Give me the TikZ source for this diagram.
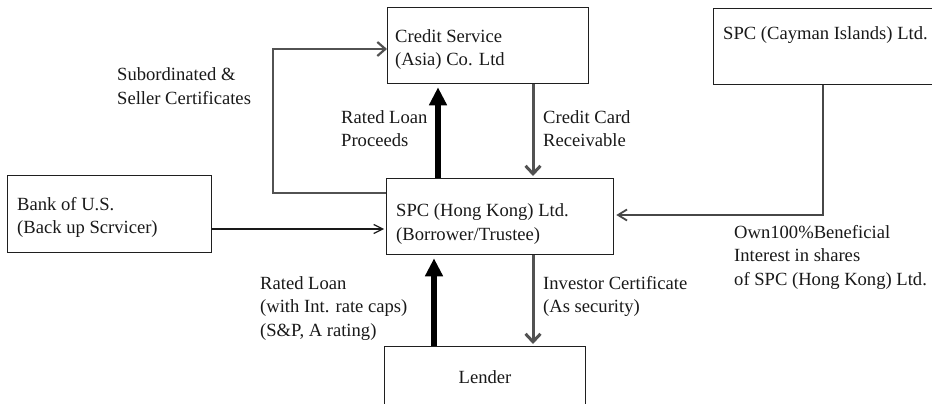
\documentclass[tikz,border=0pt]{standalone}
\usepackage{fontspec}
\setmainfont{Liberation Serif}
\usetikzlibrary{arrows.meta}
\begin{document}
\begin{tikzpicture}[x=1pt,y=-1pt,
  box/.style={draw=black!88, line width=1.3pt, inner sep=0pt, anchor=north west},
  % multi-line labels are placed by the baseline of their last line
  txt/.style={inner sep=0pt, align=left, anchor=base west,
              font=\fontsize{18.6}{23.5}\selectfont, text=black!90},
  heavy/.style={line width=6.5pt, draw=black, -{Triangle[length=18pt,width=17pt]}, shorten >=3pt},
  grayflow/.style={draw=black!68, line width=3pt, -{Straight Barb[length=8pt,width=15pt]}, shorten >=2pt},
  loopflow/.style={draw=black!68, line width=2.2pt, -{Straight Barb[length=8pt,width=14pt]}},
  thinflow/.style={draw=black!90, line width=1.2pt, -{Straight Barb[length=9pt,width=9pt]}, shorten >=2pt},
  ownflow/.style={draw=black!72, line width=1.8pt, -{Straight Barb[length=9pt,width=11pt]}, shorten >=2pt}
]
\useasboundingbox (0,0) rectangle (932,404);

% entities
\node[box, minimum width=201pt, minimum height=76pt] (cs) at (387,7) {};
\node[box, minimum width=227pt, minimum height=76pt] (hk) at (386,178) {};
\node[box, minimum width=204pt, minimum height=77pt] (bank) at (7,175) {};
\node[box, minimum width=201pt, minimum height=58pt] (lender) at (384,346) {};
\node[box, minimum width=235pt, minimum height=76pt] (cay) at (713,8) {};

\node[txt] (cstxt) at (395,66) {Credit Service\\(Asia) Co. Ltd};
\node[txt] (hktxt) at (396,240) {SPC (Hong Kong) Ltd.\\(Borrower/Trustee)};
\node[txt] (banktxt) at (17,233.5) {Bank of U.S.\\(Back up Scrvicer)};
\node[txt] (lendtxt) at (458.5,383) {Lender};
\node[txt] (caytxt) at (723,40) {SPC (Cayman Islands) Ltd.};

% flow labels
\node[txt] (lsub) at (117,104) {Subordinated \&\\Seller Certificates};
\node[txt] (lproc) at (341,146.5) {Rated Loan\\Proceeds};
\node[txt] (lrec) at (543,146.5) {Credit Card\\Receivable};
\node[txt] (lloan) at (260,336) {Rated Loan\\(with Int. rate caps)\\(S\&P, A rating)};
\node[txt] (linv) at (543,312.5) {Investor Certificate\\(As security)};
\node[txt] (lown) at (734,285) {Own100\%Beneficial\\Interest in shares\\of SPC (Hong Kong) Ltd.};

% guide coordinates for the connectors
\coordinate (xheavy) at (438,0);
\coordinate (xgray) at (533,0);
\coordinate (xlend) at (434,0);
\coordinate (xloop) at (273,0);
\coordinate (yloopin) at (0,49);
\coordinate (yloopout) at (0,193);
\coordinate (ybank) at (0,229);
\coordinate (xown) at (823,0);
\coordinate (yown) at (0,215);

% connectors
\draw[heavy] (hk.north -| xheavy) -- (cs.south -| xheavy);
\draw[grayflow] (cs.south -| xgray) -- (hk.north -| xgray);
\draw[loopflow] (hk.west |- yloopout) -| (xloop |- yloopin) -- (cs.west |- yloopin);
\draw[thinflow] (bank.east |- ybank) -- (hk.west |- ybank);
\draw[heavy] (lender.north -| xlend) -- (hk.south -| xlend);
\draw[grayflow] (hk.south -| xgray) -- (lender.north -| xgray);
\draw[ownflow] (cay.south -| xown) |- (hk.east |- yown);
\end{tikzpicture}
\end{document}
